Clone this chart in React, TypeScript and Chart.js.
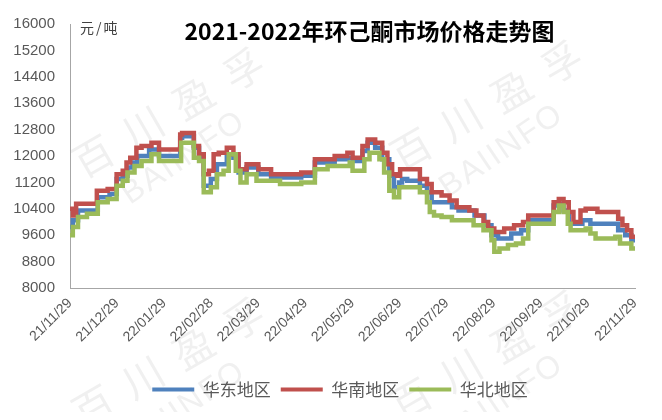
import React, { useEffect, useRef } from "react";
import { Chart, registerables } from "chart.js";

Chart.register(...registerables);

const TITLE = "2021-2022年环己酮市场价格走势图";
const UNIT = "元/吨";
const WATERMARK_CN = "百川盈孚";
const WATERMARK_EN = "BAIINFO";

// x tick labels, one per month; x values below are months since 21/11/29
const tickLabels = [
  "21/11/29", "21/12/29", "22/01/29", "22/02/28", "22/03/29", "22/04/29", "22/05/29",
  "22/06/29", "22/07/29", "22/08/29", "22/09/29", "22/10/29", "22/11/29",
];

const seriesNames = ["华东地区", "华南地区", "华北地区"];
const seriesColors = ["#4F81BD", "#C0504D", "#9BBB59"];

const yMin = 8000;
const yMax = 16000;
const yStep = 800;

// [month position, price]
const east: [number, number][] = [
  [0, 9850], [0.06, 10050], [0.17, 10350], [0.59, 10750], [0.84, 10850], [0.99, 11300],
  [1.12, 11400], [1.22, 11650], [1.33, 11800], [1.43, 12000], [1.68, 12200], [1.89, 12000],
  [2.34, 12550], [2.38, 12600], [2.63, 12250], [2.74, 11950], [2.84, 11100], [2.99, 11300],
  [3.12, 11750], [3.33, 12050], [3.47, 11950], [3.58, 11500], [3.75, 11650], [4.0, 11450],
  [4.27, 11350], [4.91, 11400], [5.2, 11800], [5.62, 11900], [5.89, 11950], [6.0, 11850],
  [6.21, 12150], [6.32, 12400], [6.48, 12250], [6.63, 11900], [6.78, 11400], [6.88, 11050],
  [6.99, 11200], [7.05, 11300], [7.16, 11250], [7.43, 11100], [7.58, 10900], [7.68, 10600],
  [8.11, 10450], [8.25, 10350], [8.59, 10200], [8.8, 9900], [8.95, 9600], [9.09, 9500],
  [9.37, 9650], [9.58, 9750], [9.73, 10050], [10.27, 10500], [10.38, 10550], [10.48, 10350],
  [10.59, 9950], [10.88, 10050], [11.05, 9950], [11.64, 9750], [11.79, 9600], [11.92, 9450],
  [12.0, 9450],
];

const south: [number, number][] = [
  [0, 10400], [0.06, 10200], [0.13, 10550], [0.57, 10950], [0.8, 11000], [0.99, 11450],
  [1.12, 11550], [1.2, 11800], [1.28, 11950], [1.41, 12250], [1.52, 12300], [1.73, 12400],
  [1.89, 12200], [2.34, 12650], [2.38, 12700], [2.63, 12300], [2.74, 12050], [2.84, 11450],
  [2.95, 11550], [3.05, 12050], [3.16, 12100], [3.33, 12250], [3.47, 12050], [3.58, 11600],
  [3.75, 11750], [4.0, 11600], [4.27, 11450], [4.91, 11500], [5.2, 11900], [5.62, 12000],
  [5.89, 12100], [6.0, 11950], [6.21, 12300], [6.32, 12500], [6.48, 12400], [6.63, 12100],
  [6.74, 11750], [6.84, 11450], [6.95, 11400], [7.01, 11600], [7.43, 11300], [7.58, 11150],
  [7.68, 10900], [7.89, 10800], [8.06, 10650], [8.21, 10450], [8.48, 10350], [8.63, 10200],
  [8.78, 10000], [8.88, 9800], [9.01, 9700], [9.22, 9800], [9.43, 9900], [9.62, 10000],
  [9.73, 10200], [10.27, 10600], [10.38, 10700], [10.48, 10600], [10.59, 10300], [10.69, 10000],
  [10.84, 10350], [10.95, 10400], [11.2, 10300], [11.64, 10100], [11.73, 9900], [11.83, 9750],
  [11.92, 9550], [12.0, 9550],
];

const north: [number, number][] = [
  [0, 9600], [0.06, 9850], [0.17, 10150], [0.36, 10250], [0.59, 10600], [0.8, 10700],
  [0.99, 11100], [1.12, 11250], [1.22, 11500], [1.37, 11700], [1.52, 11850], [1.73, 12050],
  [1.89, 11850], [2.36, 12400], [2.63, 11950], [2.74, 11850], [2.84, 10900], [2.99, 11050],
  [3.12, 11450], [3.26, 11550], [3.37, 12050], [3.52, 11550], [3.62, 11200], [3.75, 11450],
  [3.96, 11250], [4.46, 11150], [4.91, 11200], [5.2, 11600], [5.47, 11700], [5.94, 11800],
  [6.0, 11550], [6.25, 11900], [6.36, 12100], [6.57, 11900], [6.67, 11500], [6.78, 10950],
  [6.88, 10750], [6.99, 11050], [7.43, 10900], [7.58, 10600], [7.64, 10300], [7.73, 10200],
  [7.89, 10150], [8.11, 10050], [8.57, 9900], [8.78, 9750], [8.95, 9450], [9.01, 9100],
  [9.12, 9200], [9.3, 9300], [9.47, 9350], [9.62, 9500], [9.73, 9950], [10.27, 10300],
  [10.38, 10500], [10.48, 10300], [10.57, 9950], [10.63, 9750], [10.95, 9800], [11.05, 9650],
  [11.16, 9500], [11.58, 9550], [11.68, 9350], [11.92, 9200], [12.0, 9200],
];

const seriesData = [east, south, north];
const drawOrder = [2, 1, 0];

export default function App() {
  const ref = useRef<HTMLCanvasElement>(null);

  useEffect(() => {
    if (!ref.current) return;

    const overlay = {
      id: "overlay",
      afterLayout(chart: any) {
        const lg = chart.legend;
        if (lg) {
          lg.left += 16;
          lg.right += 16;
        }
      },
      beforeDraw(chart: any) {
        const ctx = chart.ctx as CanvasRenderingContext2D;
        ctx.save();
        ctx.fillStyle = "#ffffff";
        ctx.fillRect(0, 0, chart.width, chart.height);
        const groups = [
          [0, 0],
          [318, -7],
          [0, 250],
          [318, 243],
        ];
        ctx.fillStyle = "rgba(150,150,150,0.14)";
        ctx.textAlign = "center";
        ctx.textBaseline = "middle";
        for (const [dx, dy] of groups) {
          ctx.save();
          ctx.translate(168 + dx, 100 + dy);
          ctx.rotate((-30 * Math.PI) / 180);
          ctx.font = "40px 'Noto Sans CJK SC'";
          (ctx as any).letterSpacing = "18px";
          ctx.fillText(WATERMARK_CN, 0, 0);
          ctx.restore();
          ctx.save();
          ctx.translate(176 + dx, 150 + dy);
          ctx.rotate((-34 * Math.PI) / 180);
          ctx.font = "32px 'Liberation Sans'";
          (ctx as any).letterSpacing = "2px";
          ctx.fillText(WATERMARK_EN, 0, 0);
          ctx.restore();
        }
        ctx.restore();
      },
      afterDatasetsDraw(chart: any) {
        const ctx = chart.ctx as CanvasRenderingContext2D;
        const area = chart.chartArea;
        ctx.save();
        ctx.fillStyle = "#000000";
        ctx.textAlign = "center";
        ctx.textBaseline = "middle";
        ctx.font = "bold 23px 'Noto Sans CJK SC'";
        ctx.fillText(TITLE, (area.left + area.right) / 2 + 17, area.top + 7);
        ctx.fillStyle = "#404040";
        ctx.textAlign = "left";
        ctx.font = "14px 'Noto Sans CJK SC'";
        (ctx as any).letterSpacing = "2px";
        ctx.fillText(UNIT, area.left + 10, area.top + 4);
        ctx.restore();
      },
    };

    const chart = new Chart(ref.current, {
      type: "line",
      data: {
        datasets: seriesData.map((d, i) => ({
          label: seriesNames[i],
          data: d.map(([x, y]) => ({ x, y })),
          borderColor: seriesColors[i],
          backgroundColor: seriesColors[i],
          borderWidth: 4.5,
          pointRadius: 0,
          stepped: "before" as const,
          fill: false,
          order: drawOrder[i],
        })),
      },
      options: {
        animation: false,
        responsive: true,
        maintainAspectRatio: false,
        layout: { padding: { left: 0, right: 14, top: 16, bottom: 4 } },
        plugins: {
          title: { display: false },
          tooltip: { enabled: false },
          legend: {
            display: true,
            position: "bottom",
            labels: {
              boxWidth: 42,
              boxHeight: 4,
              padding: 10,
              color: "#595959",
              font: { size: 17, family: "'Noto Sans CJK SC'" },
              generateLabels: (c: any) =>
                c.data.datasets.map((ds: any, i: number) => ({
                  text: ds.label,
                  fillStyle: ds.borderColor,
                  strokeStyle: ds.borderColor,
                  lineWidth: 0,
                  hidden: false,
                  datasetIndex: i,
                  fontColor: "#595959",
                })),
            },
          },
        },
        scales: {
          x: {
            type: "linear",
            min: 0,
            max: tickLabels.length - 1,
            grid: { display: false, drawTicks: false },
            border: { display: true, color: "#a6a6a6", width: 1 },
            afterBuildTicks: (scale: any) => {
              scale.ticks = tickLabels.map((_, i) => ({ value: i }));
            },
            afterFit: (scale: any) => {
              scale.height = 83;
            },
            ticks: {
              autoSkip: false,
              minRotation: 45,
              maxRotation: 45,
              padding: 7,
              color: "#595959",
              font: { size: 14, family: "'Liberation Sans'" },
              callback: (v: any) => tickLabels[Math.round(Number(v))] ?? "",
            },
          },
          y: {
            min: yMin,
            max: yMax,
            grid: { display: false, drawTicks: false },
            border: { display: true, color: "#a6a6a6", width: 1 },
            afterFit: (scale: any) => {
              scale.width = 62;
              scale.paddingTop = 0;
              scale.paddingBottom = 0;
            },
            ticks: {
              stepSize: yStep,
              padding: 15,
              color: "#595959",
              font: { size: 15, family: "'Liberation Sans'" },
              callback: (v: any) => String(v),
            },
          },
        },
      },
      plugins: [overlay],
    } as any);

    return () => chart.destroy();
  }, []);

  return (
    <div style={{ width: 646, height: 404, position: "relative" }}>
      <canvas ref={ref} />
    </div>
  );
}
